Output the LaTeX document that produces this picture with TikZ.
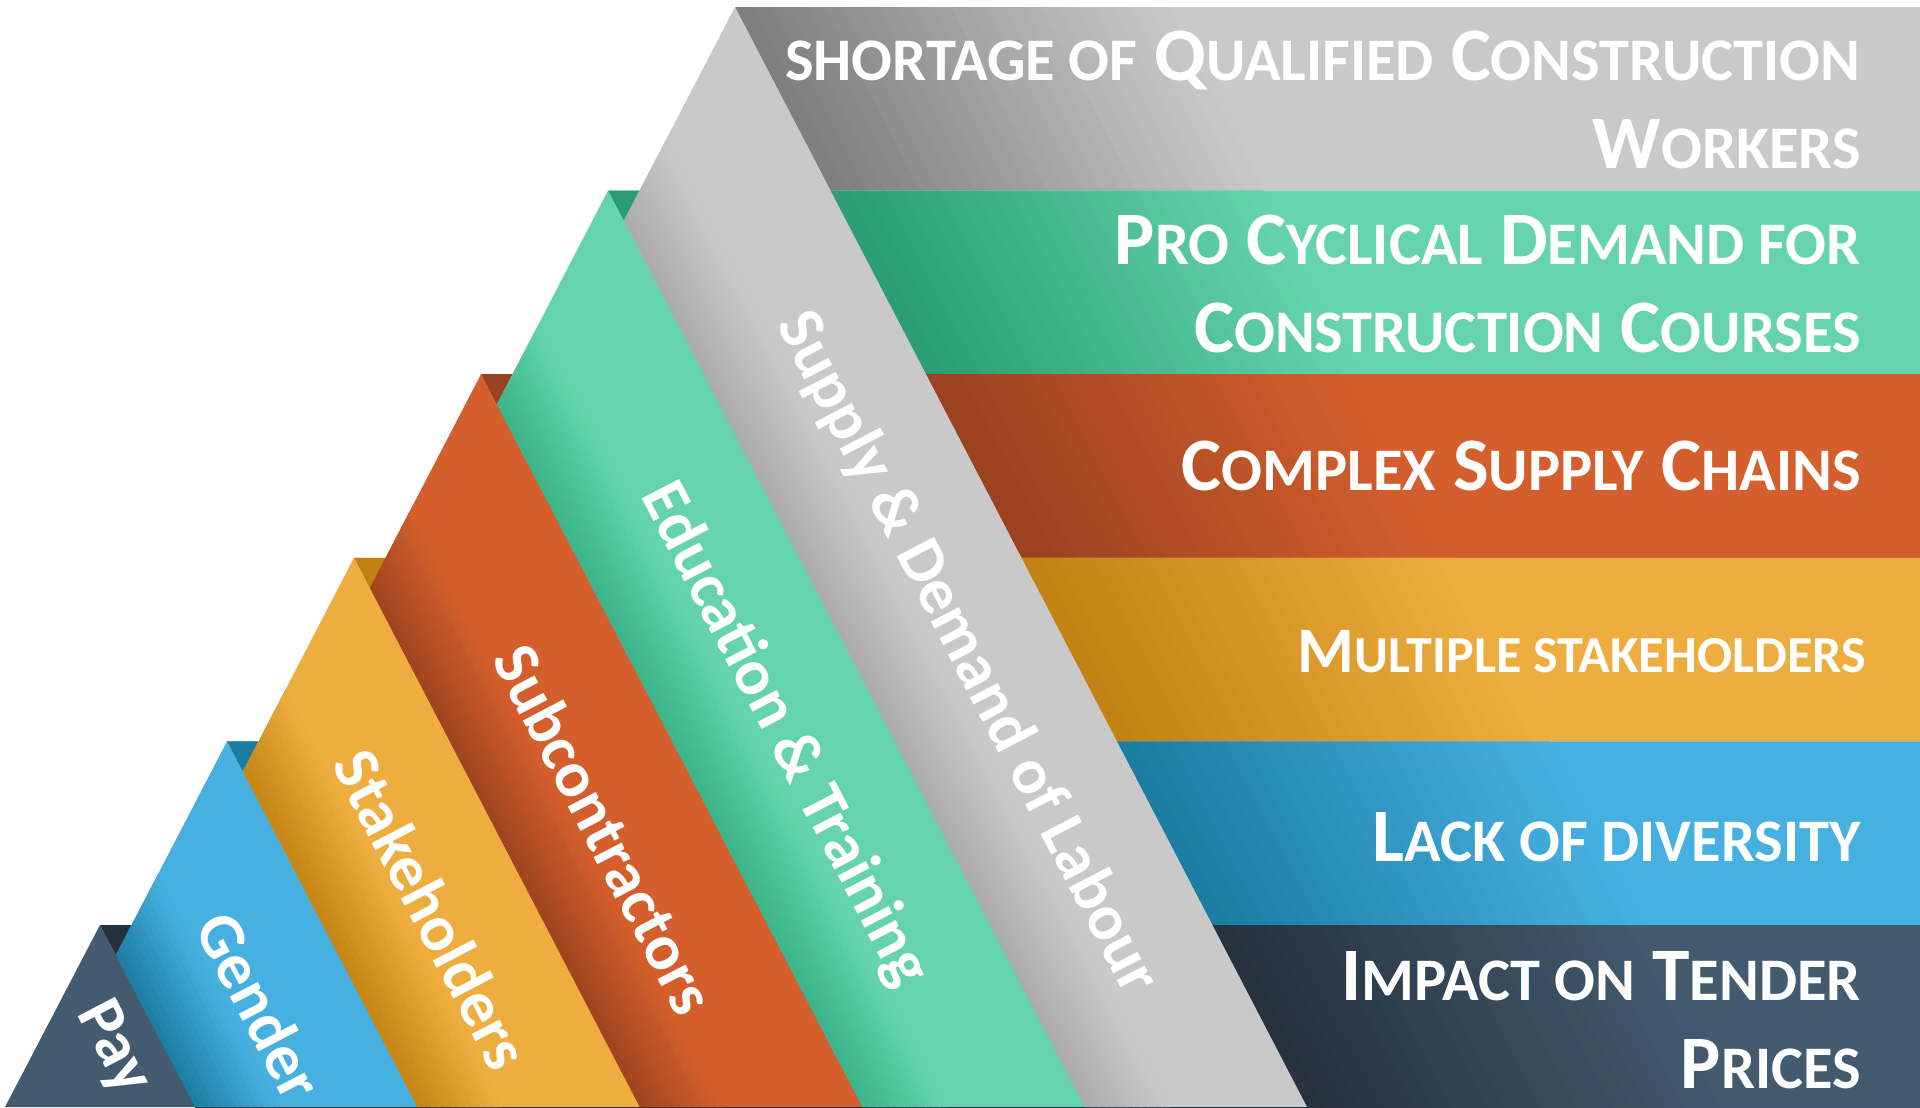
\documentclass[tikz,border=0pt]{standalone}
\usepackage{fontspec}
\setmainfont{Carlito}
\usepackage{tikz}

\definecolor{grayBase}{HTML}{C9C9C9}
\definecolor{grayDark}{HTML}{7D7D7D}
\definecolor{grayShade}{HTML}{ABABAB}
\definecolor{greenBase}{HTML}{65D4AE}
\definecolor{greenDark}{HTML}{2A9B73}
\definecolor{greenShade}{HTML}{3CB388}
\definecolor{orangeBase}{HTML}{D45F2D}
\definecolor{orangeDark}{HTML}{9A4121}
\definecolor{orangeShade}{HTML}{9E431F}
\definecolor{yellowBase}{HTML}{EEAE3F}
\definecolor{yellowDark}{HTML}{C18113}
\definecolor{yellowShade}{HTML}{C48412}
\definecolor{blueBase}{HTML}{46B1E1}
\definecolor{blueDark}{HTML}{1B7BA1}
\definecolor{blueShade}{HTML}{1C7CA2}
\definecolor{slateBase}{HTML}{435A6F}
\definecolor{slateDark}{HTML}{25313D}

\makeatletter
\newcommand\sm[1]{{\fontsize{\strip@pt\dimexpr0.8\dimexpr\f@size pt\relax\relax}{40}\selectfont #1}}
\makeatother

\tikzstyle{Heading}=[text=white, font=\bfseries\fontsize{43}{50}\selectfont, anchor=base east, align=right, inner sep=0pt]
\tikzstyle{Ribbon}=[text=white, font=\bfseries\fontsize{37}{44}\selectfont, rotate=-62.5, inner sep=0pt]

\begin{document}
\begin{tikzpicture}[x=0.02cm, y=-0.02cm]
	\clip (0,0) rectangle (1920,1107);
	\fill[white] (0,0) rectangle (1920,1107);
	% bands
	\foreach \k/\c in {0/gray,1/green,2/orange,3/yellow,4/blue,5/slate} {
		\pgfmathsetmacro\px{735-127*\k}
		\pgfmathsetmacro\py{7+183.6*\k}
		\pgfmathsetmacro\pb{\py+183.6}
		\pgfmathsetmacro\la{735+0.52*(\py-7)}
		\pgfmathsetmacro\lb{735+0.52*(\pb-7)}
		\fill[\c Base] (\px,\py) -- (1920,\py) -- (1920,\pb) -- ({\px+0.52*183.6},\pb) -- cycle;
		\fill[\c Dark] (\px,\py) -- (\la,\py) -- (\lb,\pb) -- ({\px+0.52*183.6},\pb) -- cycle;
		\foreach \i in {0,...,23} {
			\pgfmathtruncatemacro\pct{100-100*(\i+0.5)/24}
			\fill[\c Dark!\pct!\c Base] ({\la+18*\i},\py) -- ({\la+18*\i+19},\py) -- ({\lb+18*\i+19},\pb) -- ({\lb+18*\i},\pb) -- cycle;
		}
	}
	% ribbons
	\foreach \k/\c in {0/gray,1/green,2/orange,3/yellow,4/blue} {
		\pgfmathsetmacro\px{735-127*\k}
		\pgfmathsetmacro\py{7+183.6*\k}
		\pgfmathsetmacro\qx{\px-222.5}
		\begin{scope}
			\clip (\px,\py) -- ({\px+0.52*(1107-\py)},1107) -- ({\qx+0.52*(1107-\py)},1107) -- ({\px-111.2},{\py+213.9}) -- cycle;
			\fill[\c Base] (0,0) rectangle (1920,1107);
			\foreach \i in {0,...,11} {
				\pgfmathtruncatemacro\pct{100-100*(\i+0.5)/12}
				\fill[\c Shade!\pct!\c Base] ({\qx+7*\i},\py) -- ({\qx+7*\i+8},\py) -- ({\qx+7*\i+8+572},{\py+1100}) -- ({\qx+7*\i+572},{\py+1100}) -- cycle;
			}
		\end{scope}
	}
	\fill[slateBase] (100,925) -- (195,1107) -- (5,1107) -- cycle;
	% headings
	\node [style=Heading] (shortage) at (1861, 168) {\sm{SHORTAGE OF} Q\sm{UALIFIED} C\sm{ONSTRUCTION}\\W\sm{ORKERS}};
	\node [style=Heading] (cyclical) at (1861, 352) {P\sm{RO} C\sm{YCLICAL} D\sm{EMAND FOR}\\C\sm{ONSTRUCTION} C\sm{OURSES}};
	\node [style=Heading] (chains) at (1861, 490) {C\sm{OMPLEX} S\sm{UPPLY} C\sm{HAINS}};
	\node [style=Heading, font=\bfseries\fontsize{37}{44}\selectfont] (stakeholders) at (1866, 672) {M\sm{ULTIPLE STAKEHOLDERS}};
	\node [style=Heading] (diversity) at (1861, 861) {L\sm{ACK OF DIVERSITY}};
	\node [style=Heading] (tender) at (1861, 1088) {I\sm{MPACT ON} T\sm{ENDER}\\P\sm{RICES}};
	% ribbon labels
	\node [style=Ribbon] (labour) at (967, 653) {Supply \& Demand of Labour};
	\node [style=Ribbon] (training) at (784, 735) {Education \& Training};
	\node [style=Ribbon] (subcontractors) at (605, 829) {Subcontractors};
	\node [style=Ribbon] (stakes) at (432, 909) {Stakeholders};
	\node [style=Ribbon] (gender) at (260, 1006) {Gender};
	\node [style=Ribbon] (pay) at (113, 1048) {Pay};
\end{tikzpicture}
\end{document}
